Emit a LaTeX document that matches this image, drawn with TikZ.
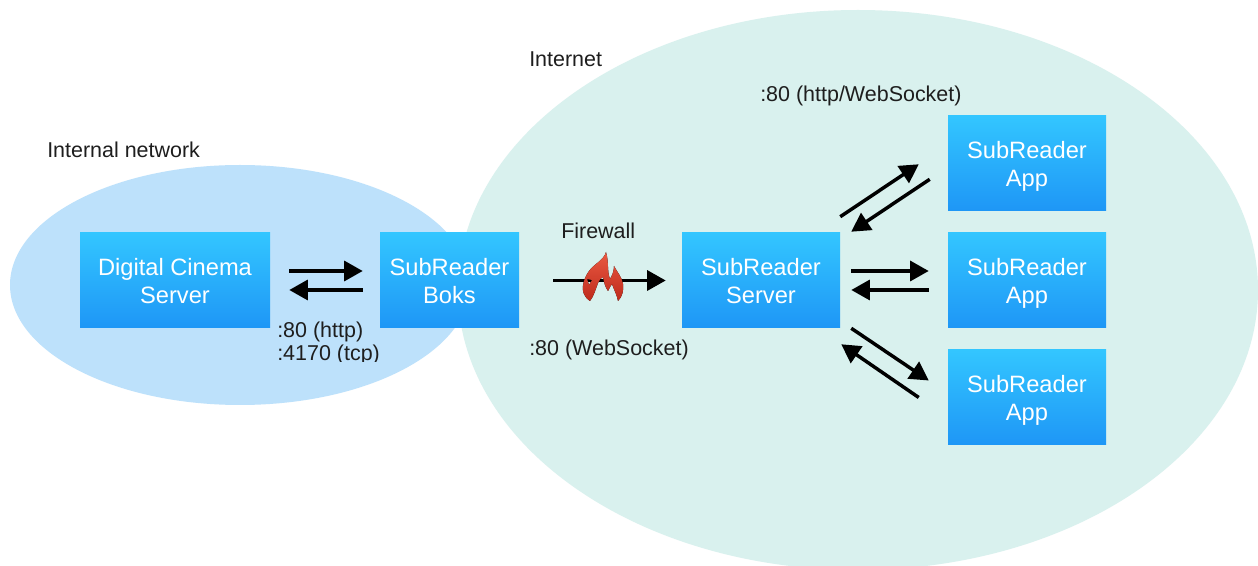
\documentclass[tikz,border=0pt]{standalone}
\usepackage{fontspec}
\setmainfont{Liberation Sans}
\definecolor{netgreen}{HTML}{D9F1EE}
\definecolor{netblue}{HTML}{BDE1FB}
\definecolor{boxtop}{HTML}{33C6FF}
\definecolor{boxbot}{HTML}{1E96F6}
\definecolor{flametop}{HTML}{EA5A42}
\definecolor{flamebot}{HTML}{BE2A1C}
\definecolor{labelc}{HTML}{1E1E1E}
\usetikzlibrary{arrows.meta,calc}
\newcommand\boxtext[2]{\raisebox{-2.25pt}[\height][\depth]{\begin{tabular}{@{}c@{}}#1\\#2\end{tabular}}}
\tikzset{
  appbox/.style={rectangle,minimum height=71.25pt,inner sep=0pt,top color=boxtop,bottom color=boxbot,text=white,align=center,font=\fontsize{17.75pt}{21pt}\selectfont},
  netlabel/.style={text=labelc,inner sep=0pt,anchor=base west,font=\fontsize{16.1pt}{18pt}\selectfont,align=left},
  flow/.style={line width=2.6pt,black,-{Triangle[length=14pt,width=15pt]}},
}
\begin{document}
\begin{tikzpicture}[x=0.75pt,y=-0.75pt]
\useasboundingbox (0,0) rectangle (1258,566);
\fill[white] (0,0) rectangle (1258,566);
\fill[netgreen] (858,290) ellipse [x radius=400,y radius=280];
\fill[netblue] (240,285) ellipse [x radius=230,y radius=120];
\node[appbox,minimum width=142.5pt] (dcs) at (175,280.5) {\boxtext{Digital Cinema}{Server}};
\node[appbox,minimum width=104.25pt] (boks) at (449.5,280.5) {\boxtext{SubReader}{Boks}};
\node[appbox,minimum width=118.5pt] (srv) at (761,280.5) {\boxtext{SubReader}{Server}};
\node[appbox,minimum width=118.5pt] (app1) at (1027,163.5) {\boxtext{SubReader}{App}};
\node[appbox,minimum width=118.5pt] (app2) at (1027,280.5) {\boxtext{SubReader}{App}};
\node[appbox,minimum width=118.5pt] (app3) at (1027,397.5) {\boxtext{SubReader}{App}};
\node[netlabel] (lint) at (47,158) {Internal network};
\node[netlabel] (linet) at (529,66.5) {Internet};
\node[netlabel] (lws) at (760,102) {:80 (http/WebSocket)};
\node[netlabel] (lfw) at (561,239) {Firewall};
\node[netlabel] (lsock) at (529,356) {:80 (WebSocket)};
\node[netlabel] (lhttp) at (277,338) {:80 (http)};
\begin{scope}
\clip (270,345) rectangle (400,362);
\node[netlabel] (ltcp) at (277,361) {:4170 (tcp)};
\end{scope}
\draw[flow] ([shift={(19,-9.5)}]dcs.east) -- ([shift={(-17,-9.5)}]boks.west);
\draw[flow] ([shift={(-17,9.5)}]boks.west) -- ([shift={(19,9.5)}]dcs.east);
\draw[flow] ([shift={(34,0)}]boks.east) -- ([shift={(-16,0)}]srv.west);
\draw[flow] ([shift={(0,-16)}]srv.north east) -- ([shift={(-29,-47)}]app1.south west);
\draw[flow] ([shift={(-18,-32)}]app1.south west) -- ([shift={(11,-1)}]srv.north east);
\draw[flow] ([shift={(11,-9.5)}]srv.east) -- ([shift={(-19,-9.5)}]app2.west);
\draw[flow] ([shift={(-19,9.5)}]app2.west) -- ([shift={(11,9.5)}]srv.east);
\draw[flow] ([shift={(11,0)}]srv.south east) -- ([shift={(-19,-17)}]app3.west);
\draw[flow] ([shift={(-29,0)}]app3.west) -- ([shift={(1,16)}]srv.south east);
\fill[top color=flametop,bottom color=flamebot,even odd rule]
 (606,252) .. controls (604,260) and (594,264) .. (589,271)
 .. controls (584,278) and (581,288) .. (584,294)
 .. controls (586,298) and (588,300) .. (590,301)
 .. controls (594,296) and (596,288) .. (598,283)
 .. controls (599,280) and (601,278) .. (603,277)
 .. controls (604,282) and (605,287) .. (608,291)
 .. controls (609,288) and (611,286) .. (612,284)
 .. controls (614,290) and (617,295) .. (618,301)
 .. controls (622,297) and (624,291) .. (623,284)
 .. controls (622,277) and (617,272) .. (614,266)
 .. controls (614,271) and (612,276) .. (610,279)
 .. controls (607,272) and (609,262) .. (606,252) -- cycle
 (587,279) -- (592,280) -- (589,285) -- cycle;
\end{tikzpicture}
\end{document}
